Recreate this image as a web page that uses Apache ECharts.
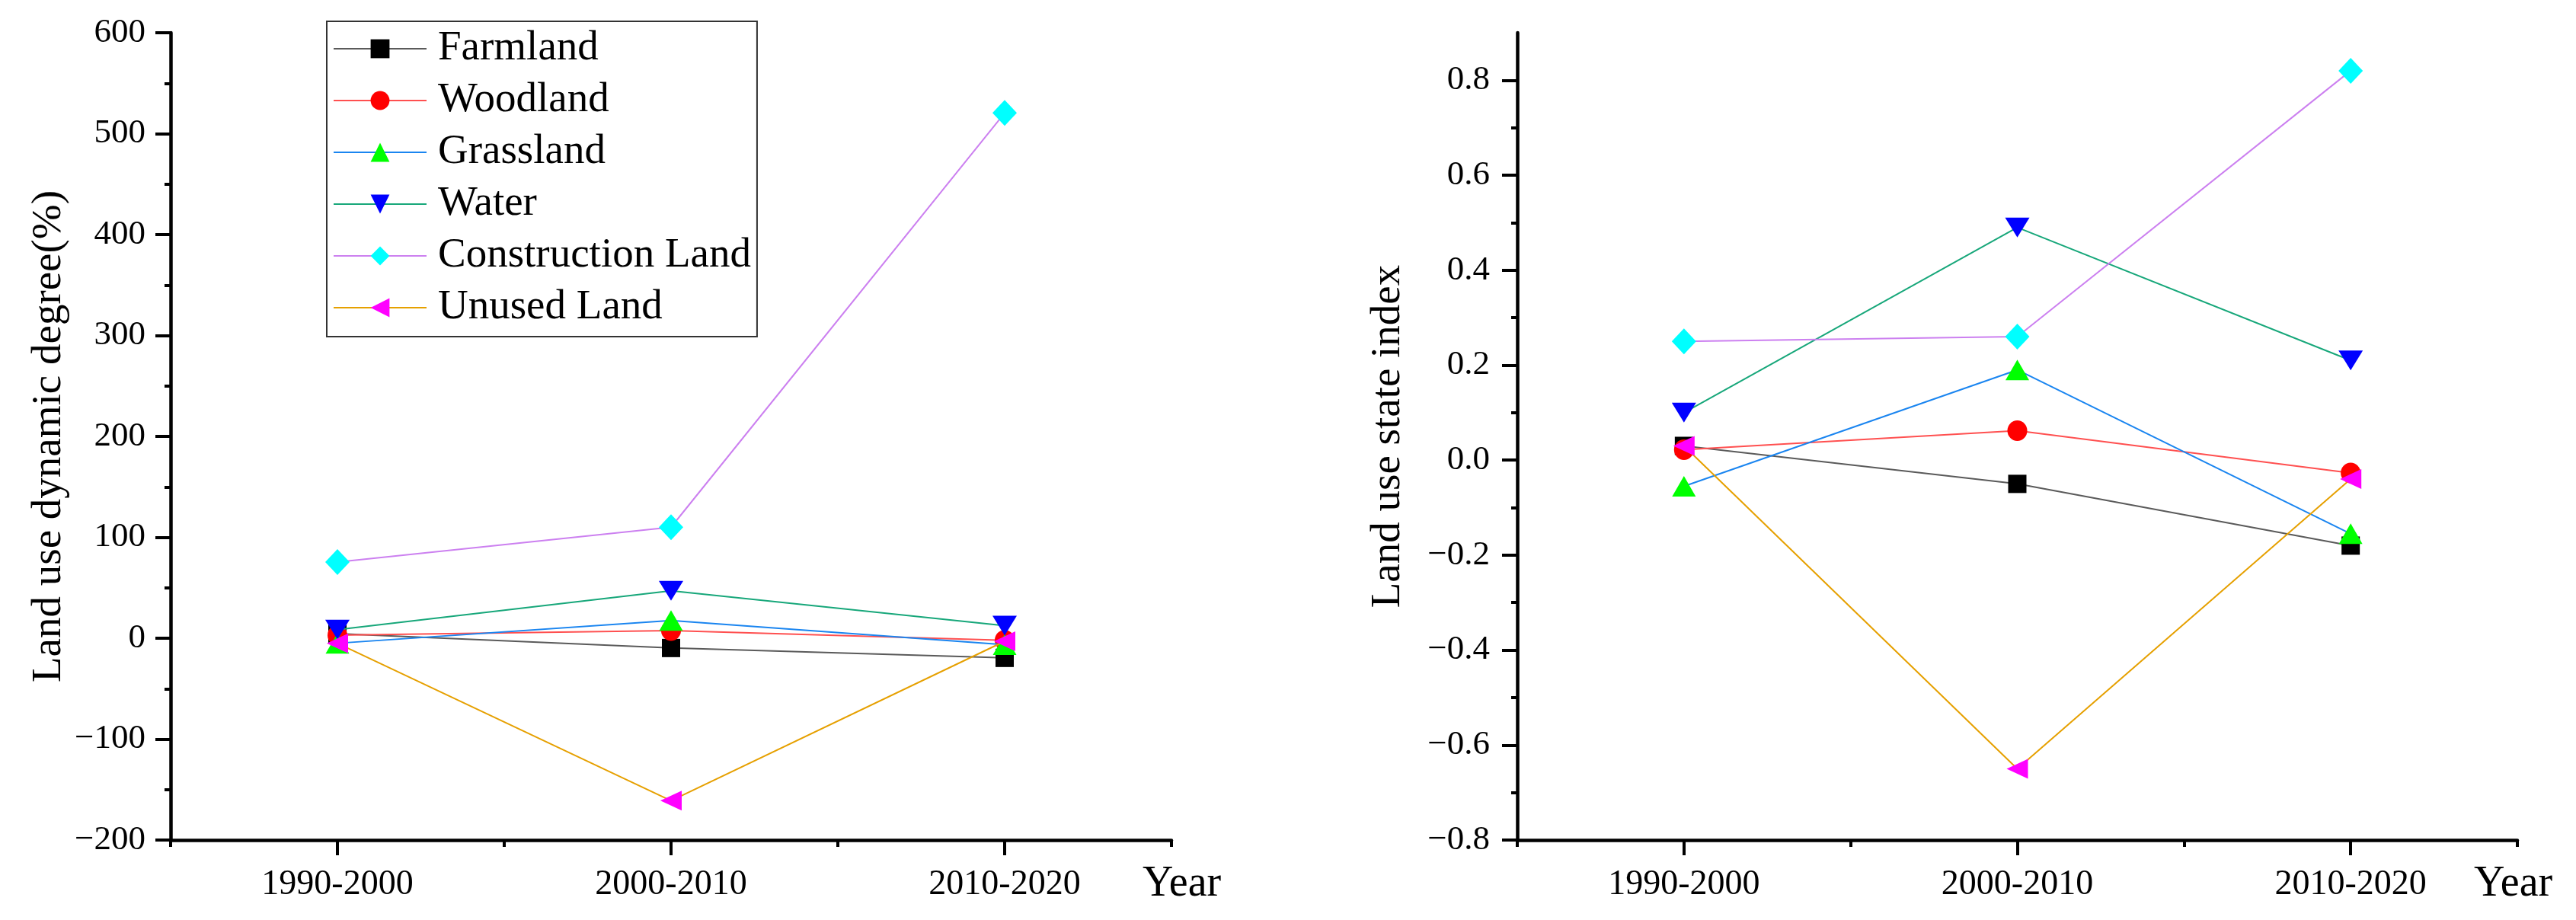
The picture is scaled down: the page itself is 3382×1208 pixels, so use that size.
<!DOCTYPE html>
<html>
<head>
<meta charset="utf-8">
<script src="https://cdn.jsdelivr.net/npm/echarts@6/dist/echarts.min.js"></script>
<style>
html,body{margin:0;padding:0;background:#fff;}
#chart{width:3382px;height:1208px;}
</style>
</head>
<body>
<div id="chart"></div>
<script>
const categories = ['1990-2000', '2000-2010', '2010-2020'];
const seriesNames = ['Farmland', 'Woodland', 'Grassland', 'Water', 'Construction Land', 'Unused Land'];

// Land use dynamic degree (%)
const dynFarmland = [4.5, -9.7, -19.5];
const dynWoodland = [3, 7.5, -2];
const dynGrassland = [-5, 17.5, -6.5];
const dynWater = [8.5, 47, 12.5];
const dynConstruction = [75.5, 110, 520.5];
const dynUnused = [-5, -161, -3];

// Land use state index
const idxFarmland = [0.03, -0.05, -0.18];
const idxWoodland = [0.022, 0.062, -0.027];
const idxGrassland = [-0.055, 0.19, -0.155];
const idxWater = [0.10, 0.49, 0.21];
const idxConstruction = [0.25, 0.26, 0.82];
const idxUnused = [0.03, -0.65, -0.04];

const leftTicks = [-200, -100, 0, 100, 200, 300, 400, 500, 600];
const rightTicks = [-0.8, -0.6, -0.4, -0.2, 0, 0.2, 0.4, 0.6, 0.8];
const rightMinorTicks = [-0.7, -0.5, -0.3, -0.1, 0.1, 0.3, 0.5, 0.7];

const catPos = [1, 2, 3];
const catMinor = [0.5, 1.5, 2.5, 3.5];

const FONT = 'Liberation Serif';
const lineColors = ['#5a5a5a', '#ff5050', '#1a85f0', '#17a77a', '#cc80f0', '#e6a000'];
const markColors = ['#000000', '#ff0000', '#00ff00', '#0000ff', '#00ffff', '#ff00ff'];
const symbols = ['rect', 'circle', 'triangle', 'triangle', 'diamond', 'triangle'];
const symRot = [0, 0, 0, 180, 0, 90];
const symSize = [[24, 24], [26, 27], [31, 27], [32, 26], [32, 34], [26, 28]];

const dynData = [dynFarmland, dynWoodland, dynGrassland, dynWater, dynConstruction, dynUnused];
const idxData = [idxFarmland, idxWoodland, idxGrassland, idxWater, idxConstruction, idxUnused];

const minus = s => String(s).replace('-', '\u2212');

function xAxes(grid, nameGap) {
  return [
    {
      gridIndex: grid, type: 'value', min: 0.5, max: 3.5, position: 'bottom',
      axisLine: { show: true, onZero: false, lineStyle: { color: '#000', width: 4.5 } },
      axisTick: { show: true, customValues: catPos, length: 20, lineStyle: { color: '#000', width: 4 } },
      axisLabel: { customValues: catPos, formatter: v => categories[Math.round(v) - 1], margin: 36,
        fontSize: 46, fontFamily: FONT, color: '#000' },
      splitLine: { show: false },
      name: 'Year', nameLocation: 'end', nameGap: nameGap,
      nameTextStyle: { fontSize: 56, fontFamily: FONT, color: '#000', verticalAlign: 'top', align: 'left', padding: [30, 0, 0, 0] }
    },
    {
      gridIndex: grid, type: 'value', min: 0.5, max: 3.5, position: 'bottom',
      axisLine: { show: false, onZero: false },
      axisTick: { show: true, customValues: catMinor, length: 9, lineStyle: { color: '#000', width: 4 } },
      axisLabel: { show: false },
      splitLine: { show: false }
    }
  ];
}

const yAxes = [
  {
    gridIndex: 0, type: 'value', min: -200, max: 600, interval: 100, position: 'left',
    axisLine: { show: true, onZero: false, lineStyle: { color: '#000', width: 4.5 } },
    axisTick: { show: true, customValues: leftTicks, length: 20, lineStyle: { color: '#000', width: 4 } },
    minorTick: { show: true, splitNumber: 2, length: 8, lineStyle: { color: '#000', width: 4 } },
    axisLabel: { customValues: leftTicks, formatter: v => minus(v), margin: 33, fontSize: 45, fontFamily: FONT, color: '#000' },
    splitLine: { show: false }, minorSplitLine: { show: false },
    name: 'Land use dynamic degree(%)', nameLocation: 'middle', nameGap: 132,
    nameTextStyle: { fontSize: 55, fontFamily: FONT, color: '#000' }
  },
  {
    gridIndex: 1, type: 'value', min: -0.8, max: 0.9, interval: 0.2, position: 'left',
    axisLine: { show: true, onZero: false, lineStyle: { color: '#000', width: 4.5 } },
    axisTick: { show: true, customValues: rightTicks, length: 20, lineStyle: { color: '#000', width: 4 } },
    axisLabel: { customValues: rightTicks, formatter: v => minus(Number(v).toFixed(1)), margin: 36, fontSize: 45, fontFamily: FONT, color: '#000' },
    splitLine: { show: false },
    name: 'Land use state index', nameLocation: 'middle', nameGap: 142,
    nameTextStyle: { fontSize: 55, fontFamily: FONT, color: '#000' }
  },
  {
    gridIndex: 1, type: 'value', min: -0.8, max: 0.9, position: 'left',
    axisLine: { show: false, onZero: false },
    axisTick: { show: true, customValues: rightMinorTicks, length: 8, lineStyle: { color: '#000', width: 4 } },
    axisLabel: { show: false },
    splitLine: { show: false }
  }
];

function makeSeries(dataSets, xIdx, yIdx) {
  return seriesNames.map((name, i) => ({
    name: name, type: 'line', xAxisIndex: xIdx, yAxisIndex: yIdx,
    data: dataSets[i].map((v, j) => [catPos[j], v]),
    symbol: symbols[i], symbolRotate: symRot[i], symbolSize: symSize[i],
    showAllSymbol: true,
    lineStyle: { color: lineColors[i], width: 2 },
    itemStyle: { color: markColors[i] },
    emphasis: { disabled: true },
    z: 2 + i
  }));
}

const chart = echarts.init(document.getElementById('chart'));
chart.setOption({
  animation: false,
  backgroundColor: '#fff',
  textStyle: { fontFamily: FONT, color: '#000' },
  grid: [
    { left: 224, right: 1844, top: 43, bottom: 105 },
    { left: 1992, right: 77, top: 43, bottom: 105 }
  ],
  legend: {
    data: seriesNames, orient: 'vertical', left: 429, top: 28,
    itemWidth: 122, itemHeight: 31, itemGap: 8,
    padding: [6, 8, 8, 8],
    borderColor: '#333', borderWidth: 2, borderRadius: 0,
    selectedMode: false,
    textStyle: { fontSize: 55, fontFamily: FONT, color: '#000', lineHeight: 60, padding: [0, 0, 0, 10] }
  },
  xAxis: xAxes(0, -38).concat(xAxes(1, -57)),
  yAxis: yAxes,
  series: makeSeries(dynData, 0, 0).concat(makeSeries(idxData, 2, 1))
});
</script>
</body>
</html>
